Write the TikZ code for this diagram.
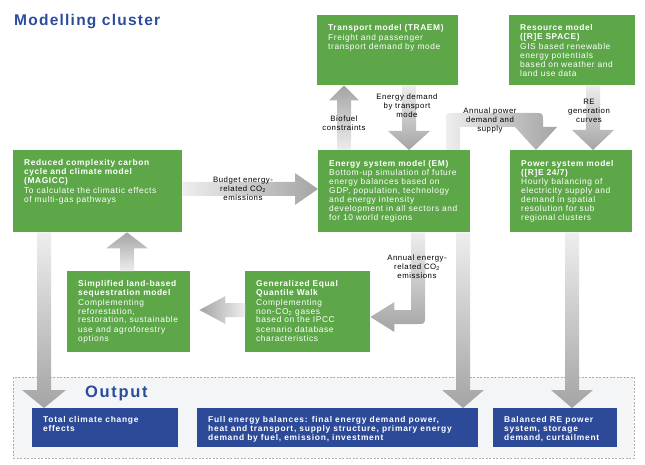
\documentclass[tikz,border=0pt]{standalone}
\usepackage{fontspec}
\setmainfont{Liberation Sans}[LetterSpace=7]
\usetikzlibrary{calc}
\definecolor{boxgreen}{HTML}{5DA748}
\definecolor{outblue}{HTML}{2C4A98}
\definecolor{titleblue}{HTML}{2B4C9C}
\definecolor{arrlight}{HTML}{EEEEEE}
\definecolor{arrdark}{HTML}{A4A4A4}
\definecolor{outfill}{HTML}{F4F5F7}
\definecolor{dashgray}{HTML}{AEAEAE}
\newcommand\boxtxt[4]{\parbox[t][#1][t]{#2}{\leftskip=11pt\rightskip=0pt plus 1fil\parfillskip=0pt plus 1fil\parindent=0pt\vspace*{#3}\strut#4\par}}
\newcommand\blockdown[5]{\shade[#1] let \p1=#2, \p2=#3 in (\x1-7pt,\y1) -- (\x1-7pt,\y2+#5) -- (\x1-#4,\y2+#5) -- (\x1,\y2) -- (\x1+#4,\y2+#5) -- (\x1+7pt,\y2+#5) -- (\x1+7pt,\y1) -- cycle;}
\newcommand\blockup[5]{\shade[#1] let \p1=#2, \p2=#3 in (\x1-7pt,\y1) -- (\x1-7pt,\y2-#5) -- (\x1-#4,\y2-#5) -- (\x1,\y2) -- (\x1+#4,\y2-#5) -- (\x1+7pt,\y2-#5) -- (\x1+7pt,\y1) -- cycle;}
\newcommand\blockright[5]{\shade[#1] let \p1=#2, \p2=#3 in (\x1,\y1-7pt) -- (\x2-#5,\y1-7pt) -- (\x2-#5,\y1-#4) -- (\x2,\y1) -- (\x2-#5,\y1+#4) -- (\x2-#5,\y1+7pt) -- (\x1,\y1+7pt) -- cycle;}
\newcommand\blockleft[5]{\shade[#1] let \p1=#2, \p2=#3 in (\x1,\y1-7pt) -- (\x2+#5,\y1-7pt) -- (\x2+#5,\y1-#4) -- (\x2,\y1) -- (\x2+#5,\y1+#4) -- (\x2+#5,\y1+7pt) -- (\x1,\y1+7pt) -- cycle;}
\tikzset{
  gbox/.style={fill=boxgreen, text=white, anchor=north west, inner sep=0pt, font=\fontsize{8.4}{9}\selectfont},
  bbox/.style={fill=outblue, text=white, anchor=north west, inner sep=0pt, font=\fontsize{8.4}{9}\selectfont\bfseries\addfontfeature{LetterSpace=9}},
  lbl/.style={align=center, inner sep=0pt, text=black, font=\fontsize{7.8}{9}\selectfont},
  downsh/.style={top color=arrlight, bottom color=arrdark},
  upsh/.style={bottom color=arrlight, top color=arrdark},
  rightsh/.style={left color=arrlight, right color=arrdark},
  leftsh/.style={right color=arrlight, left color=arrdark},
  bigtitle/.style={anchor=west, inner sep=0pt, text=titleblue, font=\fontsize{15.5}{18}\selectfont\bfseries\addfontfeature{LetterSpace=8}},
}
\begin{document}
\begin{tikzpicture}[x=1pt, y=-1pt]
\useasboundingbox (0,0) rectangle (645,465);
% title
\node[bigtitle] (title) at (14,22) {Modelling cluster};
% output frame
\node[draw=dashgray, dash pattern=on 2pt off 1.5pt, fill=outfill, minimum width=621pt, minimum height=81pt, anchor=north west, inner sep=0pt] (outframe) at (13,377) {};
\node[bigtitle, font=\fontsize{16.5}{18}\selectfont\bfseries\addfontfeature{LetterSpace=10}] (outlbl) at (85,393) {Output};
% green boxes
\node[gbox] (tr) at (317,15) {\boxtxt{70pt}{141pt}{9.5pt}{\textbf{Transport model (TRAEM)}\\[1pt]Freight and passenger\\transport demand by mode}};
\node[gbox] (rs) at (509,15) {\boxtxt{70pt}{126pt}{9.5pt}{\textbf{Resource model}\\\textbf{([R]E SPACE)}\\[1pt]GIS based renewable\\energy potentials\\based on weather and\\land use data}};
\node[gbox] (mg) at (13,150) {\boxtxt{82pt}{169pt}{9.5pt}{\textbf{Reduced complexity carbon}\\\textbf{cycle and climate model}\\\textbf{(MAGICC)}\\[1pt]To calculate the climatic effects\\of multi-gas pathways}};
\node[gbox] (em) at (318,150) {\boxtxt{82pt}{152pt}{10pt}{\textbf{Energy system model (EM)}\\Bottom-up simulation of future\\energy balances based on\\GDP, population, technology\\and energy intensity\\development in all sectors and\\for 10 world regions}};
\node[gbox] (ps) at (510,150) {\boxtxt{82pt}{122pt}{10pt}{\textbf{Power system model}\\\textbf{([R]E 24/7)}\\Hourly balancing of\\electricity supply and\\demand in spatial\\resolution for sub\\regional clusters}};
\node[gbox] (land) at (67,271) {\boxtxt{81pt}{123pt}{8.5pt}{\textbf{Simplified land-based}\\\textbf{sequestration model}\\[1pt]Complementing\\reforestation,\\restoration, sustainable\\use and agroforestry\\options}};
\node[gbox] (gq) at (245,271) {\boxtxt{81pt}{125pt}{8.5pt}{\textbf{Generalized Equal}\\\textbf{Quantile Walk}\\[1pt]Complementing\\non-CO\textsubscript{2} gases\\based on the IPCC\\scenario database\\characteristics}};
% output boxes
\node[bbox] (tot) at (32,408) {\boxtxt{39pt}{146pt}{7.5pt}{Total climate change\\effects}};
\node[bbox] (full) at (197,408) {\boxtxt{39pt}{281pt}{7.5pt}{Full energy balances: final energy demand power,\\heat and transport, supply structure, primary energy\\demand by fuel, emission, investment}};
\node[bbox] (bal) at (493,408) {\boxtxt{39pt}{124pt}{7.5pt}{Balanced RE power\\system, storage\\demand, curtailment}};
% arrow lanes
\coordinate (lbf) at (344,0);
\coordinate (led) at (409,0);
\coordinate (lap) at (453,0);
\coordinate (lap2) at (536,0);
\coordinate (lre) at (593,0);
\coordinate (lmg) at (44,0);
\coordinate (lfe) at (463,0);
\coordinate (lbl) at (572,0);
\coordinate (lld) at (127,0);
\coordinate (lbu) at (0,189);
\coordinate (lgq) at (0,310);
\coordinate (lco) at (418,0);
\coordinate (lco2) at (0,317);
% straight block arrows
\blockup{upsh}{(lbf |- em.north)}{(lbf |- tr.south)}{15pt}{15pt}
\blockdown{downsh}{(led |- tr.south)}{(led |- em.north)}{21pt}{19pt}
\blockdown{downsh}{(lre |- rs.south)}{(lre |- ps.north)}{21pt}{20pt}
\blockright{rightsh}{(mg.east |- lbu)}{(em.west |- lbu)}{16pt}{23pt}
\blockdown{downsh}{(lmg |- mg.south)}{(lmg |- tot.north)}{22pt}{18pt}
\blockdown{downsh}{(lfe |- em.south)}{(lfe |- full.north)}{21pt}{18pt}
\blockdown{downsh}{(lbl |- ps.south)}{(lbl |- bal.north)}{21pt}{18pt}
\blockup{upsh}{(lld |- land.north)}{(lld |- mg.south)}{21pt}{16pt}
\blockleft{leftsh}{(gq.west |- lgq)}{($(land.east |- lgq)+(9,0)$)}{14pt}{26pt}
% elbow: annual power demand and supply
\shade[rightsh] let \p1=(lap |- em.north), \p2=(lap2 |- ps.north) in
  (\x1-7pt,\y1) -- (\x1-7pt,\y1+29pt) .. controls (\x1-7pt,\y1+37pt) .. (\x1+1pt,\y1+37pt)
  -- (\x2-1pt,\y1+37pt) .. controls (\x2+7pt,\y1+37pt) .. (\x2+7pt,\y1+29pt)
  -- (\x2+7pt,\y2+23pt) -- (\x2+21pt,\y2+23pt) -- (\x2,\y2) -- (\x2-21pt,\y2+23pt)
  -- (\x1+7pt,\y1+23pt) -- (\x1+7pt,\y1) -- cycle;
% elbow: annual energy-related CO2
\shade[downsh] let \p1=(lco |- em.south), \p2=(gq.east |- lco2) in
  (\x1-7pt,\y1) -- (\x1-7pt,\y2+7pt) -- (\x2+24pt,\y2+7pt) -- (\x2+24pt,\y2+15pt) -- (\x2,\y2)
  -- (\x2+24pt,\y2-15pt) -- (\x2+24pt,\y2-7pt) -- (\x1-1pt,\y2-7pt)
  .. controls (\x1+7pt,\y2-7pt) .. (\x1+7pt,\y2+1pt) -- (\x1+7pt,\y1) -- cycle;
% labels
\node[lbl] (lb1) at (344,123) {Biofuel\\constraints};
\node[lbl] (lb2) at (407,106) {Energy demand\\by transport\\mode};
\node[lbl] (lb3) at (490,120) {Annual power\\demand and\\supply};
\node[lbl] (lb4) at (589,111) {RE\\generation\\curves};
\node[lbl] (lb5) at (243,189) {Budget energy-\\related CO\textsubscript{2}\\emissions};
\node[lbl] (lb6) at (417,267) {Annual energy-\\related CO\textsubscript{2}\\emissions};
\end{tikzpicture}
\end{document}
